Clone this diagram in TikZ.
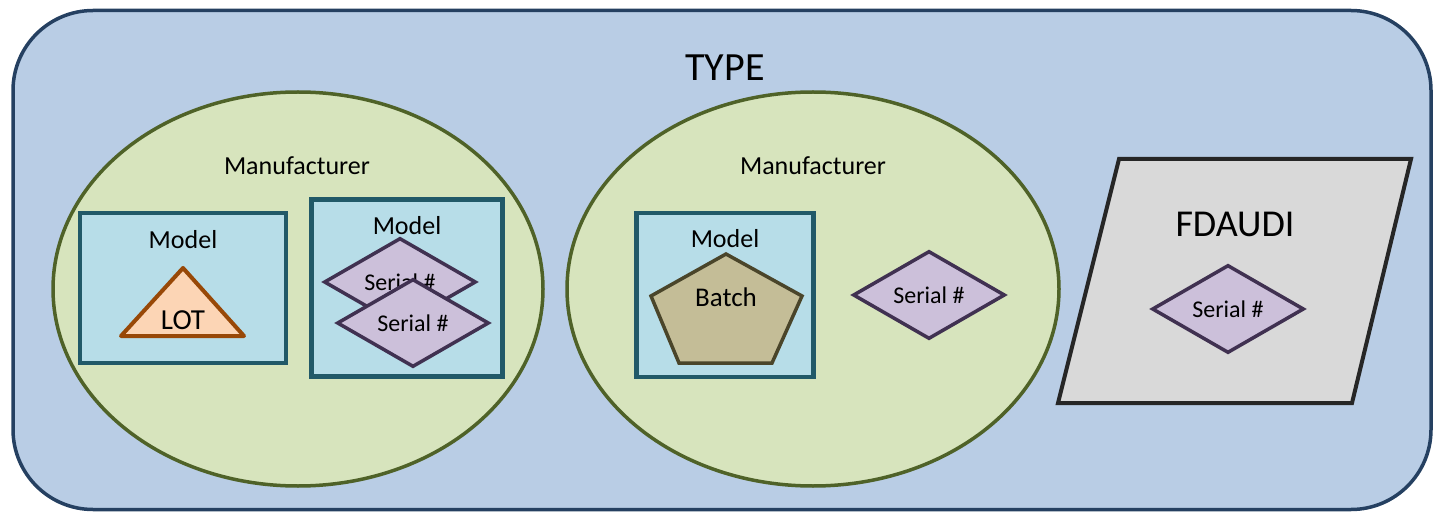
\documentclass[tikz,border=0pt]{standalone}
\usepackage{fontspec}
\setmainfont{Carlito}
\usetikzlibrary{shapes.geometric,positioning}
\definecolor{typefill}{HTML}{B9CDE5}
\definecolor{typeline}{HTML}{254061}
\definecolor{manufill}{HTML}{D7E4BD}
\definecolor{manuline}{HTML}{4F6228}
\definecolor{modelfill}{HTML}{B7DDE8}
\definecolor{modelline}{HTML}{215968}
\definecolor{lotfill}{HTML}{FCD5B5}
\definecolor{lotline}{HTML}{984807}
\definecolor{serialfill}{HTML}{CCC0DA}
\definecolor{serialline}{HTML}{403151}
\definecolor{batchfill}{HTML}{C4BD97}
\definecolor{batchline}{HTML}{4A452A}
\definecolor{fdafill}{HTML}{D9D9D9}
\definecolor{fdaline}{HTML}{262626}
\tikzset{
    typebox/.style={
        draw=typeline,
        fill=typefill,
        line width=3.5pt,
        rectangle,
        rounded corners=80pt,
        minimum width=1418pt,
        minimum height=499pt
    },
    manuset/.style={
        draw=manuline,
        fill=manufill,
        line width=3.5pt,
        ellipse,
        inner sep=0pt,
        minimum height=394pt
    },
    modelbox/.style={
        draw=modelline,
        fill=modelfill,
        line width=4.5pt,
        rectangle,
        inner sep=0pt
    },
    serial/.style={
        draw=serialline,
        fill=serialfill,
        line width=3.5pt,
        diamond,
        inner sep=0pt,
        minimum width=152pt,
        minimum height=82pt,
        font=\fontsize{24}{28}\selectfont
    },
    lbl/.style={
        inner sep=0pt,
        font=\fontsize{26}{30}\selectfont
    }
}

\begin{document}
\begin{tikzpicture}[x=1pt,y=-1pt]
  \useasboundingbox (0,0) rectangle (1433,513);

  \node[typebox] (T) at (722,260) {};
  \node[lbl,font=\fontsize{40}{46}\selectfont] (Tlbl) at (725,68) {TYPE};

  % first manufacturer
  \node[manuset,minimum width=490pt] (M1) at (298,289) {};
  \node[lbl] (M1lbl) at (297,166) {Manufacturer};

  \node[modelbox,minimum width=206pt,minimum height=150pt] (Mod1) at (183,288) {};
  \node[lbl] (Mod1lbl) at (183,240) {Model};
  \draw[draw=lotline,fill=lotfill,line width=4pt,line join=round]
    (183,268) -- (244,336) -- (121,336) -- cycle;
  \node[lbl,font=\fontsize{29}{34}\selectfont] (Lot) at (183,320) {LOT};

  \node[modelbox,minimum width=191pt,minimum height=177pt] (Mod2) at (407,288) {};
  \node[lbl] (Mod2lbl) at (407,226) {Model};
  \node[serial] (S1) at (400,282) {Serial \#};
  \node[serial] (S2) at (413,323) {Serial \#};

  % second manufacturer
  \node[manuset,minimum width=492pt] (M2) at (813,289) {};
  \node[lbl] (M2lbl) at (813,166) {Manufacturer};

  \node[modelbox,minimum width=177pt,minimum height=164pt] (Mod3) at (725,295) {};
  \node[lbl] (Mod3lbl) at (725,239) {Model};
  \draw[draw=batchline,fill=batchfill,line width=3.5pt]
    (726,254) -- (802,296) -- (772,363) -- (679,363) -- (651,296) -- cycle;
  \node[lbl,font=\fontsize{27}{32}\selectfont] (Batch) at (726,297) {Batch};

  \node[serial] (S3) at (929,295) {Serial \#};

  % FDAUDI
  \draw[draw=fdaline,fill=fdafill,line width=4pt]
    (1119,159) -- (1411,159) -- (1352,403) -- (1058,403) -- cycle;
  \node[lbl,font=\fontsize{38}{44}\selectfont] (Fda) at (1235,224) {FDAUDI};
  \node[serial] (S4) at (1228,309) {Serial \#};

\end{tikzpicture}
\end{document}
